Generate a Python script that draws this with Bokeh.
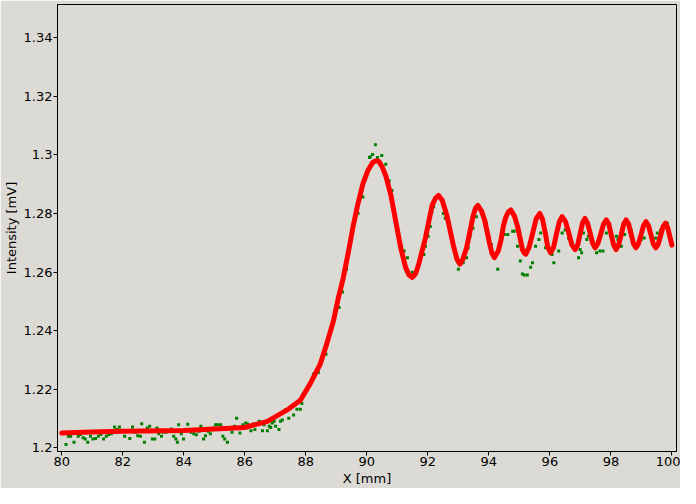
from bokeh.plotting import figure
from bokeh.models import Range1d, FixedTicker
from bokeh.embed import file_html
from bokeh.resources import INLINE

# ---- data ----
fit_x = [80.0, 81.0, 82.0, 84.0, 86.0, 86.74, 87.39, 87.82, 88.14, 88.47, 88.68, 88.90, 89.06,
         89.22, 89.39, 89.55, 89.71, 89.87, 90.03, 90.19, 90.30, 90.40, 90.50, 90.62, 90.79,
         90.95, 91.11, 91.27, 91.38, 91.49, 91.60, 91.70, 91.92, 92.14, 92.25, 92.35, 92.47,
         92.62, 92.83, 92.95, 93.05, 93.15, 93.27, 93.48, 93.56, 93.64, 93.76, 93.86, 93.94,
         94.02, 94.10, 94.18, 94.31, 94.40, 94.48, 94.56, 94.64, 94.72, 94.84, 94.94, 95.03,
         95.10, 95.16, 95.21, 95.32, 95.44, 95.55, 95.67, 95.76, 95.85, 95.93, 96.02, 96.12,
         96.21, 96.31, 96.40, 96.51, 96.62, 96.72, 96.83, 96.91, 96.99, 97.07, 97.15, 97.23,
         97.32, 97.40, 97.48, 97.57, 97.67, 97.76, 97.85, 97.93, 98.01, 98.09, 98.17, 98.25,
         98.34, 98.42, 98.50, 98.58, 98.66, 98.74, 98.82, 98.90, 98.99, 99.07, 99.15, 99.23,
         99.31, 99.39, 99.47, 99.55, 99.63, 99.71, 99.79, 99.86, 99.93, 100.0]
fit_y = [1.2050, 1.2054, 1.2056, 1.2059, 1.2069, 1.2090, 1.2129, 1.2162, 1.2218, 1.2285, 1.2353,
         1.2431, 1.2509, 1.2577, 1.2666, 1.2756, 1.2834, 1.2901, 1.2946, 1.2974, 1.2980, 1.2978,
         1.2960, 1.2929, 1.2862, 1.2772, 1.2683, 1.2616, 1.2590, 1.2582, 1.2595, 1.2627, 1.2716,
         1.2828, 1.2852, 1.2862, 1.2845, 1.2795, 1.2694, 1.2645, 1.2627, 1.2645, 1.2683, 1.2790,
         1.2818, 1.2828, 1.2808, 1.2778, 1.2739, 1.2699, 1.2665, 1.2649, 1.2673, 1.2711, 1.2760,
         1.2789, 1.2806, 1.2812, 1.2791, 1.2756, 1.2713, 1.2677, 1.2665, 1.2661, 1.2685, 1.2735,
         1.2782, 1.2800, 1.2780, 1.2733, 1.2686, 1.2666, 1.2684, 1.2728, 1.2772, 1.2789, 1.2773,
         1.2733, 1.2693, 1.2677, 1.2692, 1.2730, 1.2768, 1.2783, 1.2768, 1.2733, 1.2698, 1.2683,
         1.2697, 1.2731, 1.2764, 1.2778, 1.2764, 1.2728, 1.2692, 1.2677, 1.2692, 1.2728, 1.2764,
         1.2778, 1.2764, 1.2731, 1.2697, 1.2683, 1.2696, 1.2728, 1.2759, 1.2772, 1.2759, 1.2728,
         1.2696, 1.2683, 1.2695, 1.2725, 1.2755, 1.2767, 1.2752, 1.2722, 1.2692]

meas_x = [80.14, 80.22, 80.29, 80.40, 80.54, 80.61, 80.70, 80.77, 80.85, 80.94, 81.02, 81.11,
          81.20, 81.28, 81.37, 81.46, 81.54, 81.63, 81.73, 81.80, 81.89, 81.97, 82.06, 82.15,
          82.23, 82.32, 82.41, 82.49, 82.58, 82.62, 82.71, 82.80, 82.88, 82.97, 83.05, 83.12,
          83.18, 83.27, 83.33, 83.42, 83.51, 83.59, 83.67, 83.74, 83.79, 83.83, 83.92, 83.99,
          84.07, 84.13, 84.24, 84.33, 84.41, 84.50, 84.56, 84.65, 84.71, 84.80, 84.87, 84.95,
          85.04, 85.12, 85.21, 85.28, 85.34, 85.43, 85.49, 85.58, 85.66, 85.73, 85.84, 85.94,
          86.03, 86.09, 86.20, 86.29, 86.33, 86.47, 86.58, 86.63, 86.74, 86.80, 86.85, 86.90,
          86.96, 87.01, 87.12, 87.17, 87.23, 87.33, 87.44, 87.60, 87.71, 87.82, 87.87, 88.25,
          88.41, 88.66, 89.09, 89.20, 89.33, 89.71, 89.87, 90.09, 90.11, 90.19, 90.28, 90.35,
          90.49, 90.62, 90.73, 90.82, 91.06, 91.14, 91.22, 91.33, 91.49, 91.87, 91.92, 92.01,
          92.08, 92.13, 92.19, 92.51, 92.57, 92.84, 93.00, 93.16, 93.27, 93.32, 93.38, 93.48,
          93.59, 93.92, 94.02, 94.08, 94.18, 94.29, 94.40, 94.51, 94.62, 94.78, 94.83, 94.94,
          95.03, 95.10, 95.16, 95.26, 95.37, 95.43, 95.53, 95.64, 95.70, 95.86, 96.07, 96.13,
          96.29, 96.40, 96.50, 96.61, 96.72, 96.94, 96.99, 97.04, 97.10, 97.21, 97.26, 97.42,
          97.53, 97.64, 97.74, 97.85, 97.96, 98.18, 98.23, 98.34, 98.45, 98.61, 98.66, 98.88,
          98.99, 99.09, 99.26, 99.36, 99.47, 99.52, 99.63, 99.74, 99.85]
meas_y = [1.2011, 1.2039, 1.2039, 1.2019, 1.2039, 1.2045, 1.2034, 1.2030, 1.2019, 1.2039, 1.2030,
          1.2031, 1.2039, 1.2045, 1.2030, 1.2039, 1.2045, 1.2048, 1.2071, 1.2062, 1.2071, 1.2056,
          1.2039, 1.2056, 1.2031, 1.2071, 1.2053, 1.2041, 1.2039, 1.2082, 1.2019, 1.2067, 1.2073,
          1.2030, 1.2030, 1.2067, 1.2048, 1.2039, 1.2053, 1.2053, 1.2056, 1.2064, 1.2039, 1.2030,
          1.2019, 1.2078, 1.2048, 1.2030, 1.2062, 1.2080, 1.2053, 1.2048, 1.2044, 1.2056, 1.2073,
          1.2030, 1.2041, 1.2056, 1.2048, 1.2067, 1.2078, 1.2078, 1.2078, 1.2039, 1.2030, 1.2019,
          1.2067, 1.2053, 1.2073, 1.2101, 1.2050, 1.2078, 1.2084, 1.2081, 1.2058, 1.2081, 1.2062,
          1.2090, 1.2058, 1.2078, 1.2058, 1.2073, 1.2069, 1.2084, 1.2090, 1.2073, 1.2062, 1.2090,
          1.2095, 1.2129, 1.2101, 1.2112, 1.2131, 1.2131, 1.2151, 1.2252, 1.2257, 1.2319, 1.2479,
          1.2532, 1.2610, 1.2800, 1.2856, 1.2991, 1.2994, 1.3002, 1.3035, 1.2991, 1.2998, 1.2968,
          1.2912, 1.2879, 1.2711, 1.2688, 1.2672, 1.2649, 1.2599, 1.2660, 1.2688, 1.2722, 1.2756,
          1.2806, 1.2823, 1.2800, 1.2784, 1.2688, 1.2610, 1.2632, 1.2649, 1.2683, 1.2722, 1.2750,
          1.2789, 1.2767, 1.2716, 1.2694, 1.2660, 1.2610, 1.2711, 1.2728, 1.2728, 1.2739, 1.2739,
          1.2688, 1.2638, 1.2593, 1.2590, 1.2590, 1.2616, 1.2632, 1.2688, 1.2711, 1.2733, 1.2683,
          1.2660, 1.2632, 1.2672, 1.2733, 1.2744, 1.2716, 1.2700, 1.2649, 1.2677, 1.2666, 1.2733,
          1.2711, 1.2722, 1.2700, 1.2666, 1.2672, 1.2672, 1.2733, 1.2744, 1.2722, 1.2711, 1.2688,
          1.2728, 1.2739, 1.2744, 1.2688, 1.2711, 1.2716, 1.2756, 1.2711, 1.2716, 1.2733, 1.2744,
          1.2756, 1.2767]

x_ticks = [80, 82, 84, 86, 88, 90, 92, 94, 96, 98, 100]
y_ticks = [1.2, 1.22, 1.24, 1.26, 1.28, 1.3, 1.32, 1.34]
y_tick_labels = ["1.2", "1.22", "1.24", "1.26", "1.28", "1.3", "1.32", "1.34"]

BG = "#dcdad5"
FONT = "DejaVu Sans"

p = figure(width=680, height=488, output_backend="svg", toolbar_location=None,
           x_range=Range1d(79.86, 100.15), y_range=Range1d(1.1987, 1.3514),
           background_fill_color=BG, border_fill_color=BG,
           min_border_left=51, min_border_right=4, min_border_top=4, min_border_bottom=36)
p.grid.visible = False
p.outline_line_color = "black"
p.outline_line_width = 1

p.xaxis.ticker = FixedTicker(ticks=x_ticks)
p.yaxis.ticker = FixedTicker(ticks=y_ticks)
p.yaxis.major_label_overrides = {t: l for t, l in zip(y_ticks, y_tick_labels)}
p.xaxis.axis_label = "X [mm]"
p.yaxis.axis_label = "Intensity [mV]"
for ax in (p.xaxis, p.yaxis):
    ax.axis_label_text_font = FONT
    ax.axis_label_text_font_size = "13px"
    ax.axis_label_text_font_style = "normal"
    ax.axis_label_text_color = "black"
    ax.major_label_text_font = FONT
    ax.major_label_text_font_size = "13px"
    ax.major_label_text_color = "black"
    ax.major_tick_in = 0
    ax.major_tick_out = 4
    ax.minor_tick_in = 0
    ax.minor_tick_out = 0
    ax.axis_line_color = "black"
    ax.major_tick_line_color = "black"
    ax.major_label_standoff = 1
    ax.axis_label_standoff = 2

p.scatter(meas_x, meas_y, marker="square", size=3, color="#007f00", line_width=0)
p.line(fit_x, fit_y, line_color="#ff0000", line_width=5, line_join="round", line_cap="round")

open("out.html", "w").write(file_html(p, INLINE))
